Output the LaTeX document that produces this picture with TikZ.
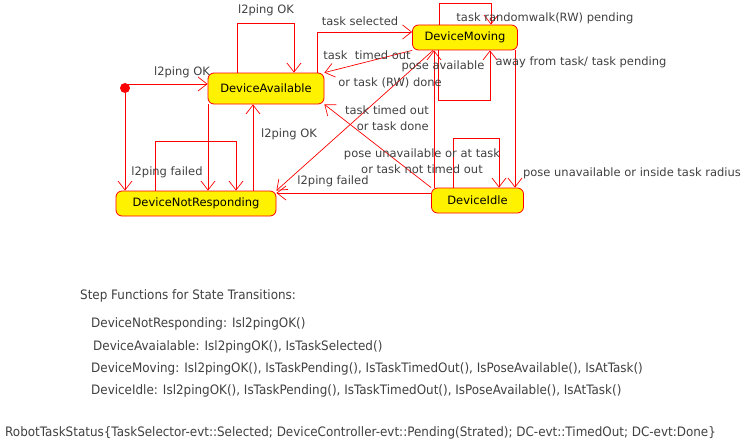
\documentclass[tikz,border=0pt]{standalone}
\usepackage{fontspec}
\setmainfont{DejaVu Sans}
\newfontfamily\stepfont[FakeStretch=0.92]{DejaVu Sans}
\usetikzlibrary{arrows.meta,positioning}
\definecolor{labelgray}{HTML}{404040}
\tikzset
{
  statenode/.style  = {rectangle, rounded corners=6pt, draw=red, fill=yellow, line width=0.8pt, inner sep=0pt, font=\fontsize{11.5}{13}\selectfont},
  trans/.style      = {draw=red, line width=0.7pt},
  translabel/.style = {text=labelgray, inner sep=1pt, font=\fontsize{11.5}{15.5}\selectfont},
  steptext/.style   = {text=labelgray, inner sep=0pt, anchor=west, font=\stepfont\fontsize{13}{15}\selectfont}
}

\begin{document}
\begin{tikzpicture}[->,>={Straight Barb[length=9pt,width=14pt]},x=1pt,y=-1pt]
            \useasboundingbox (0,0) rectangle (749,444);
            % states
            \node [circle, fill=red, inner sep=0pt, minimum size=10pt] (init) at (125,88) {};
            \node [statenode, minimum width=116pt, minimum height=31pt] (avail) at (266,88.5) {DeviceAvailable};
            \node [statenode, minimum width=105pt, minimum height=25pt] (moving) at (465,37.5) {DeviceMoving};
            \node [statenode, minimum width=160pt, minimum height=25pt] (notresp) at (196,203.5) {DeviceNotResponding};
            \node [statenode, minimum width=92pt, minimum height=25pt] (idle) at (477.5,200.5) {DeviceIdle};
            % transitions
            \draw [trans] (init.center |- 0,84) -- (avail.west |- 0,84);
            \draw [trans] (init) -- (init |- notresp.north);
            \draw [trans] (avail.north -| 237,0) |- (294,23) -- (avail.north -| 294,0);
            \draw [trans] (avail.north -| 317,0) |- (moving.west |- 0,32);
            \draw [trans] (moving.south west) -- (avail.north east);
            \draw [trans] (moving.north -| 439,0) |- (491,3) -- (moving.north -| 491,0);
            \draw [trans] (moving.south -| 438,0) |- (490,100) -- (moving.south -| 490,0);
            \draw [trans] (idle.north -| 434,0) -- (moving.south -| 434,0);
            \draw [trans] (moving.south -| 515,0) -- (idle.north -| 515,0);
            \draw [trans] (moving.south -| 433,0) -- (notresp.north east);
            \draw [trans] (idle.west |- 0,193) -- (notresp.east |- 0,193);
            \draw [trans] (idle.north west) -- (avail.south east);
            \draw [trans] (notresp.north -| 253,0) -- (avail.south -| 253,0);
            \draw [trans] (avail.south -| 208,0) -- (notresp.north -| 208,0);
            \draw [trans] (notresp.north -| 155,0) |- (236,141) -- (notresp.north -| 236,0);
            \draw [trans] (idle.north -| 453,0) |- (499,138) -- (idle.north -| 499,0);
            % labels
            \node [translabel] (initok) at (182,72) {l2ping OK};
            \node [translabel] (initfailed) at (167,172) {l2ping failed};
            \node [translabel] (availok) at (266,10) {l2ping OK};
            \node [translabel] (selected) at (360,21) {task selected};
            \node [translabel] (movetimeout) at (367,55) {task\ \ timed out};
            \node [translabel] (movedone) at (390,83) {or task (RW) done};
            \node [translabel] (rwpending) at (545,18) {task randomwalk(RW) pending};
            \node [translabel] (poseavail) at (443,66) {pose available};
            \node [translabel] (awaytask) at (581,62) {away from task/ task pending};
            \node [translabel] (insideradius) at (632,173) {pose unavailable or inside task radius};
            \node [translabel] (idlefailed) at (333,181) {l2ping failed};
            \node [translabel, align=right, anchor=east] (idledone) at (430,118) {task timed out\\or task done};
            \node [translabel, align=center] (attask) at (422,161) {pose unavailable or at task\\or task not timed out};
            \node [translabel] (respok) at (289,134) {l2ping OK};
            % step functions
            \node [steptext] (stephead) at (80,296) {Step Functions for State Transitions:};
            \node [steptext] (stepresp) at (91,324) {DeviceNotResponding: Isl2pingOK()};
            \node [steptext] (stepavail) at (93,347) {DeviceAvaialable: Isl2pingOK(), IsTaskSelected()};
            \node [steptext] (stepmoving) at (91,369) {DeviceMoving: Isl2pingOK(), IsTaskPending(), IsTaskTimedOut(), IsPoseAvailable(), IsAtTask()};
            \node [steptext] (stepidle) at (91,391) {DeviceIdle: Isl2pingOK(), IsTaskPending(), IsTaskTimedOut(), IsPoseAvailable(), IsAtTask()};
            \node [steptext] (taskstatus) at (5,433) {RobotTaskStatus\{TaskSelector-evt::Selected; DeviceController-evt::Pending(Strated); DC-evt::TimedOut; DC-evt:Done\}};
          \end{tikzpicture}
\end{document}
